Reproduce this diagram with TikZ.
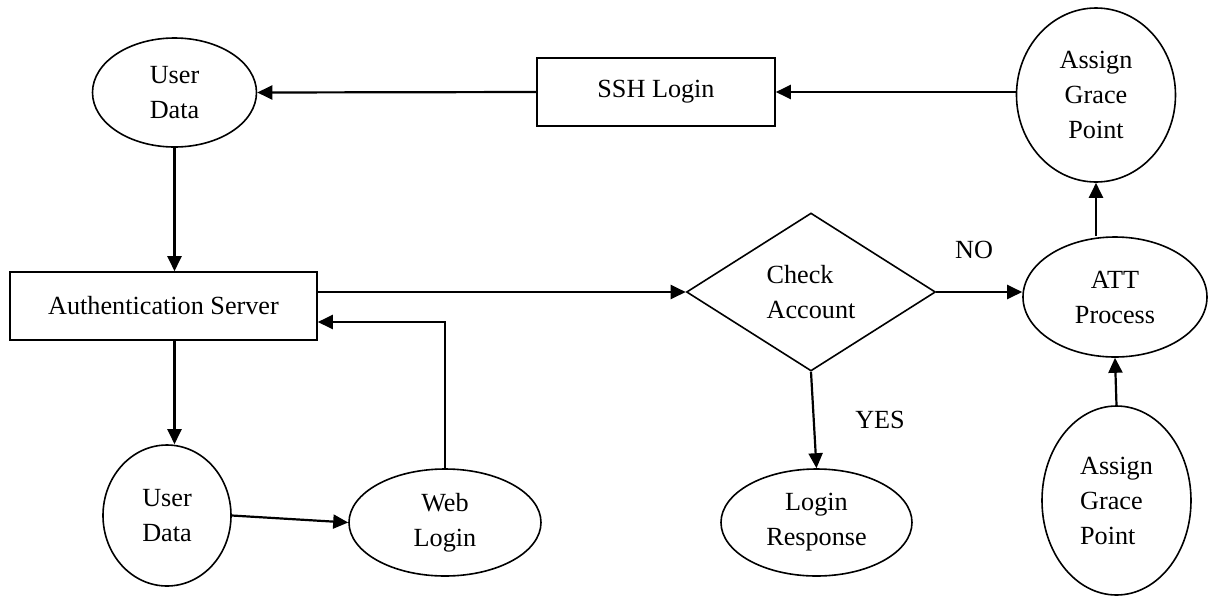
\documentclass[tikz,border=0pt]{standalone}
\usepackage{fontspec}
\setmainfont{Liberation Serif}
\usepackage{tikz}
\tikzset{
  box/.style={draw, line width=0.8pt, inner sep=0pt, align=center},
  bubble/.style={draw, ellipse, line width=0.8pt, inner sep=0pt, align=center},
  decision/.style={draw, diamond, line width=0.8pt, inner sep=0pt, align=left},
  flow/.style={-{Triangle[length=7.5pt, width=7pt]}, line width=1.1pt}
}
\usetikzlibrary{
  positioning, shapes.geometric, arrows.meta
}

\begin{document}
\begin{tikzpicture}[
    x=0.5pt, y=-0.5pt,
    font=\fontsize{13.1pt}{17.5pt}\selectfont
]
\useasboundingbox (0,0) rectangle (1212,596);
\node[bubble, minimum width=82pt, minimum height=54.5pt] (userTop) at (174.5,92.5) {User\\Data};
\node[box, minimum width=119pt, minimum height=34pt] (ssh) at (656,92) {SSH Login};
\node[bubble, minimum width=79.5pt, minimum height=87pt] (graceTop) at (1096,95) {Assign\\Grace\\Point};
\node[box, minimum width=153.5pt, minimum height=34pt] (auth) at (163.5,306) {Authentication Server};
\node[decision, minimum width=124.5pt, minimum height=79pt] (check) at (811,292) {Check\\Account};
\node[bubble, minimum width=92pt, minimum height=60pt] (att) at (1115,297) {ATT\\Process};
\node[bubble, minimum width=64pt, minimum height=70.5pt] (userBot) at (167,515.5) {User\\Data};
\node[bubble, minimum width=96pt, minimum height=53.5pt] (web) at (445,522.5) {Web\\Login};
\node[bubble, minimum width=95.5pt, minimum height=53.5pt] (resp) at (816.5,522.5) {Login\\Response};
\node[bubble, align=left, minimum width=74.5pt, minimum height=94.5pt] (graceBot) at (1116.5,500.5) {Assign\\Grace\\Point};
\node (no) at (974,250) {NO};
\node (yes) at (880,420) {YES};
\draw[flow] (ssh.west) -- (userTop.east);
\draw[flow] (graceTop.west |- ssh.east) -- (ssh.east);
\draw[flow] (userTop.south) -- (userTop.south |- auth.north);
\draw[flow] (auth.east |- check.west) -- (check.west);
\draw[flow] (check.east) -- (check.east -| att.west);
\draw[flow] (graceTop.south |- att.north) -- (graceTop.south);
\draw[flow] (graceBot.north) -- (att.south);
\draw[flow] (check.south) -- (resp.north);
\draw[flow] (auth.south -| userTop.south) -- (userTop.south |- userBot.north);
\draw[flow] (userBot.east) -- (web.west);
\draw[flow] (web.north) |- ([yshift=-8pt]auth.east);
\end{tikzpicture}
\end{document}
